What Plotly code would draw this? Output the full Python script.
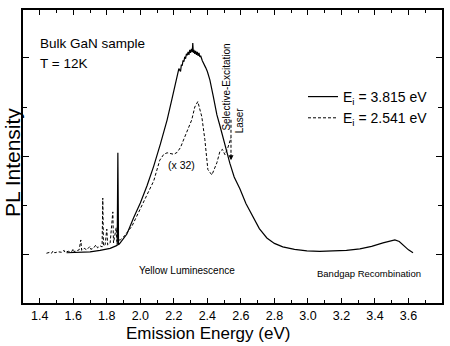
import plotly.graph_objects as go

# Solid curve: excitation E_i = 3.815 eV
solid_E = [1.56, 1.62, 1.70, 1.76, 1.82, 1.855, 1.862, 1.866, 1.870, 1.88, 1.92, 1.96, 2.00, 2.04,
           2.08, 2.12, 2.16, 2.19, 2.21, 2.23,
           2.24, 2.245, 2.25, 2.255, 2.26, 2.265, 2.27, 2.275, 2.28, 2.285, 2.29, 2.295, 2.30, 2.305,
           2.31, 2.313, 2.316, 2.32, 2.325, 2.33, 2.335, 2.34, 2.345, 2.35, 2.355, 2.36,
           2.37, 2.38, 2.39, 2.40, 2.415, 2.435, 2.457, 2.475, 2.493, 2.515, 2.534, 2.56, 2.594,
           2.63, 2.672, 2.71, 2.755, 2.80, 2.85, 2.92, 2.994, 3.07, 3.149, 3.23, 3.31, 3.38,
           3.448, 3.49, 3.519, 3.545, 3.567, 3.60, 3.627]
solid_I = [0.04, 0.05, 0.06, 0.09, 0.13, 0.18, 0.19, 2.07, 0.20, 0.24, 0.42, 0.75, 1.05, 1.40,
           1.80, 2.25, 2.74, 3.18, 3.50, 3.78,
           3.72, 3.86, 3.84, 3.95, 3.92, 4.02, 3.98, 4.08, 4.05, 4.12, 4.06, 4.16, 4.10, 4.18,
           4.12, 4.30, 4.10, 4.16, 4.08, 4.14, 4.06, 4.12, 4.04, 4.10, 4.02, 4.04,
           3.94, 3.88, 3.80, 3.72, 3.55, 3.22, 2.84, 2.62, 2.38, 2.10, 1.86, 1.58, 1.34,
           1.04, 0.76, 0.53, 0.34, 0.23, 0.16, 0.11, 0.08, 0.07, 0.08, 0.09, 0.12, 0.17,
           0.24, 0.28, 0.30, 0.27, 0.20, 0.10, 0.04]

# Dashed curve: excitation E_i = 2.541 eV (x 32)
dash_E = [1.44, 1.46, 1.47, 1.48, 1.49, 1.51, 1.53, 1.545, 1.55, 1.57, 1.59, 1.60, 1.605, 1.62,
          1.635, 1.645, 1.65, 1.665, 1.68, 1.70, 1.705, 1.72, 1.735, 1.745, 1.76, 1.772, 1.776,
          1.780, 1.79, 1.80, 1.805, 1.82, 1.836, 1.84, 1.856, 1.86, 1.864, 1.88, 1.90, 1.95,
          2.00, 2.05, 2.08, 2.116, 2.14, 2.16, 2.18, 2.20, 2.22, 2.24, 2.26, 2.284, 2.307, 2.325,
          2.343, 2.367, 2.385, 2.403, 2.427, 2.457, 2.475, 2.49, 2.505, 2.522, 2.541]
dash_I = [0.03, 0.05, 0.03, 0.08, 0.04, 0.06, 0.05, 0.09, 0.05, 0.07, 0.06, 0.12, 0.06, 0.08,
          0.10, 0.30, 0.09, 0.13, 0.10, 0.17, 0.11, 0.13, 0.20, 0.14, 0.18, 0.16, 1.15,
          0.18, 0.20, 0.52, 0.20, 0.24, 0.87, 0.24, 0.55, 0.27, 0.30, 0.30, 0.36, 0.58,
          0.93, 1.30, 1.50, 1.92, 2.04, 2.07, 2.06, 2.04, 2.08, 2.18, 2.35, 2.54, 2.74, 3.00,
          3.11, 2.80, 2.34, 1.73, 1.62, 1.87, 2.10, 2.14, 2.03, 2.17, 2.38]

laser_E = 2.541
laser_top, laser_tip = 2.74, 1.92

x_ticks = [1.4, 1.6, 1.8, 2.0, 2.2, 2.4, 2.6, 2.8, 3.0, 3.2, 3.4, 3.6, 3.8]
x_labels = ["1.4", "1.6", "1.8", "2.0", "2.2", "2.4", "2.6", "2.8", "3.0", "3.2", "3.4", "3.6", "3.8"]

FONT = "Liberation Sans, Arial, sans-serif"

fig = go.Figure()
fig.add_trace(go.Scatter(x=solid_E, y=solid_I, mode="lines", name="E<sub>i</sub> = 3.815 eV",
                         line=dict(color="black", width=1.2)))
fig.add_trace(go.Scatter(x=dash_E, y=dash_I, mode="lines", name="E<sub>i</sub> = 2.541 eV",
                         line=dict(color="black", width=1.0, dash="3px,2px")))

# laser arrow (dashed)
fig.add_shape(type="line", x0=laser_E, x1=laser_E, y0=laser_top, y1=laser_tip + 0.1,
              xref="x", yref="y", line=dict(color="black", width=1, dash="3px,2px"))
fig.add_annotation(x=laser_E, y=laser_tip, ax=laser_E, ay=laser_tip + 0.15, xref="x", yref="y",
                   axref="x", ayref="y", text="", showarrow=True, arrowhead=2, arrowsize=1,
                   arrowwidth=1, arrowcolor="black")

def txt(x, y, s, size, xanchor="center", angle=0, ref="data"):
    fig.add_annotation(x=x, y=y, text=s, showarrow=False, xanchor=xanchor, yanchor="middle",
                       textangle=angle, xref="x" if ref == "data" else "paper",
                       yref="y" if ref == "data" else "paper",
                       font=dict(family=FONT, size=size, color="black"))

txt(1.388, 4.29, "Bulk GaN sample", 13.5, xanchor="left")
txt(1.388, 3.88, "T = 12K", 13.5, xanchor="left")
txt(2.513, 3.40, "Selective-Excitation", 10, angle=-90)
txt(2.592, 2.72, "Laser", 10, angle=-90)
txt(2.247, 1.83, "(x 32)", 10.5)
txt(2.281, -0.32, "Yellow Luminescence", 10)
txt(3.364, -0.39, "Bandgap Recombination", 9.5)
txt((207.5 - 23) / 419, -0.105, "Emission Energy (eV)", 17, ref="paper")
txt(-0.026, (303 - 163) / 293, "PL Intensity", 21, angle=-90, ref="paper")

fig.update_layout(
    width=450, height=346,
    margin=dict(l=23, r=8, t=10, b=43, autoexpand=False),
    paper_bgcolor="white", plot_bgcolor="white",
    font=dict(family=FONT, color="black"),
    showlegend=True,
    legend=dict(x=(303 - 23) / 419, y=(303 - 81) / 293, xanchor="left", yanchor="top",
                bgcolor="rgba(0,0,0,0)", font=dict(family=FONT, size=14), tracegroupgap=0,
                itemwidth=30),
    xaxis=dict(range=[1.3, 3.8], tickvals=x_ticks, ticktext=x_labels, ticks="inside", ticklen=5,
               tickwidth=1, tickcolor="black", showline=True, linecolor="black", linewidth=1.5,
               mirror="allticks", showgrid=False, zeroline=False, automargin=False,
               tickfont=dict(family=FONT, size=12.5),
               minor=dict(ticks="inside", ticklen=3, tickcolor="black", dtick=0.1, tick0=1.4, showgrid=False)),
    yaxis=dict(range=[-0.98, 4.97], tickvals=[0, 2, 4], ticks="inside", ticklen=6, tickwidth=1,
               tickcolor="black", showticklabels=False, showline=True, linecolor="black",
               linewidth=1.5, mirror="allticks", showgrid=False, zeroline=False, automargin=False,
               minor=dict(ticks="inside", ticklen=4, tickcolor="black", tickvals=[1, 3], showgrid=False)),
)

fig.write_html("out.html", config={"displayModeBar": False},
               post_script="document.body.style.margin='0';")
